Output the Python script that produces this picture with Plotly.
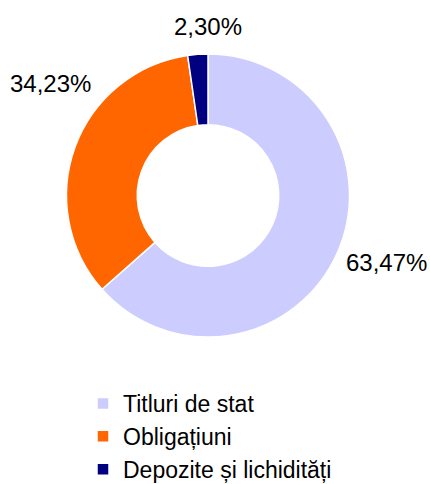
import plotly.graph_objects as go

labels = ["Titluri de stat", "Obligațiuni", "Depozite și lichidități"]
values = [63.47, 34.23, 2.30]
colors = ["#CCCCFF", "#FF6600", "#000080"]
label_pos = [(386, 262), (50, 84), (208, 26)]  # pixel centres of the outside labels

W, H = 430, 484
texts = [f"{v:.2f}%".replace(".", ",") for v in values]
FONT = "Liberation Sans, Arial, sans-serif"

cx, cy, R = 208, 195.5, 141.5
fig = go.Figure(go.Pie(
    labels=labels, values=values, sort=False, direction="clockwise", rotation=0,
    hole=0.5, marker=dict(colors=colors, line=dict(color="white", width=1.5)),
    textinfo="none", hoverinfo="label+percent",
    domain=dict(x=[(cx - R) / W, (cx + R) / W], y=[1 - (cy + R) / H, 1 - (cy - R) / H]),
))

for t, (px, py) in zip(texts, label_pos):
    fig.add_annotation(x=px / W, y=1 - py / H, xref="paper", yref="paper",
                       text=t, showarrow=False, xanchor="center", yanchor="middle",
                       font=dict(size=24, color="black", family=FONT))

fig.update_layout(
    width=W, height=H, margin=dict(l=0, r=0, t=0, b=0, autoexpand=False),
    paper_bgcolor="white", plot_bgcolor="white",
    font=dict(family=FONT, size=24, color="black"),
    legend=dict(x=83 / W, y=1 - 382 / H, xanchor="left", yanchor="top",
                orientation="v", font=dict(size=23, family=FONT), itemwidth=30,
                bgcolor="rgba(0,0,0,0)"),
    showlegend=True,
)

fig.write_html("out.html", config={"displayModeBar": False},
               post_script="document.body.style.margin='0';")
